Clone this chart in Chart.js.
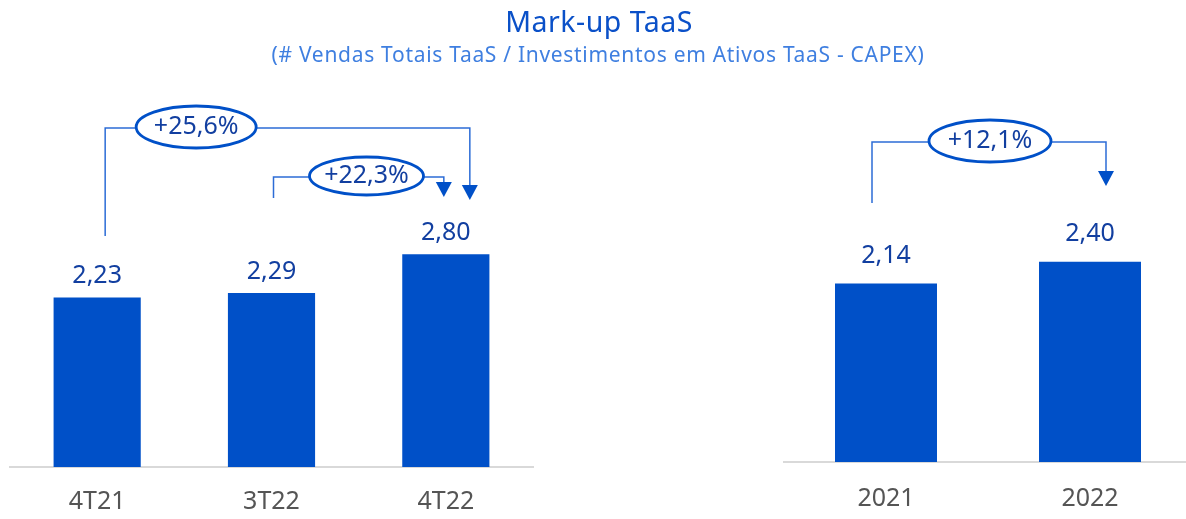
<!DOCTYPE html>
<html>
<head>
<meta charset="utf-8">
<script src="https://cdn.jsdelivr.net/npm/chart.js@4"></script>
<style>
  html, body { margin: 0; padding: 0; background: #fff; overflow: hidden; }
  body { width: 1186px; height: 519px; position: relative; font-family: "Noto Sans", sans-serif; }
  #title { position: absolute; top: 2px; left: 0; width: 1198px; text-align: center; color: #0a50c8; font-size: 28.5px; letter-spacing: 0.5px; }
  #subtitle { position: absolute; top: 40px; left: 0; width: 1196px; text-align: center; color: #3f7fe0; font-size: 21px; letter-spacing: 0.7px; }
  #leftBox { position: absolute; left: 0; top: 0; width: 545px; height: 541px; }
  #rightBox { position: absolute; left: 770px; top: 0; width: 430px; height: 543px; }
</style>
</head>
<body>
<div id="leftBox"><canvas id="leftChart"></canvas></div>
<div id="rightBox"><canvas id="rightChart"></canvas></div>
<div id="title">Mark-up TaaS</div>
<div id="subtitle">(# Vendas Totais TaaS / Investimentos em Ativos TaaS - CAPEX)</div>
<script>
// Quarterly values
const quarterLabels = ["4T21", "3T22", "4T22"];
const quarterValues = [2.23, 2.29, 2.80];
// Yearly values
const yearLabels = ["2021", "2022"];
const yearValues = [2.14, 2.40];
// Growth labels shown in the bubbles
const quarterGrowth = ["+25,6%", "+22,3%"];
const yearGrowth = ["+12,1%"];

const barColor = "#0050c8";
const labelColor = "#123fa0";
const lineColor = "#2c6cd6";
const fontName = "'Noto Sans', sans-serif";

// Draws value labels on top of each bar
const valueLabels = {
  id: "valueLabels",
  afterDatasetsDraw(chart, args, opts) {
    const ctx = chart.ctx;
    const meta = chart.getDatasetMeta(0);
    ctx.save();
    ctx.fillStyle = labelColor;
    ctx.font = "25px " + fontName;
    ctx.textAlign = "center";
    ctx.textBaseline = "bottom";
    meta.data.forEach((bar, i) => {
      const v = chart.data.datasets[0].data[i];
      ctx.fillText(v.toFixed(2).replace(".", ","), bar.x, bar.y - opts.offset);
    });
    ctx.restore();
  }
};

// Draws the bracket + bubble + arrow between two bars
const growthBrackets = {
  id: "growthBrackets",
  afterDraw(chart, args, opts) {
    const ctx = chart.ctx;
    const xs = chart.scales.x;
    ctx.save();
    (opts.items || []).forEach(b => {
      const x1 = xs.getPixelForValue(b.from) + b.fromDx;
      const x2 = xs.getPixelForValue(b.to) + b.toDx;
      const cx = x1 + b.cxDx;
      // connector lines
      ctx.strokeStyle = lineColor;
      ctx.lineWidth = 1.5;
      ctx.beginPath();
      ctx.moveTo(x1, b.startY);
      ctx.lineTo(x1, b.lineY);
      ctx.lineTo(cx - b.rx, b.lineY);
      ctx.moveTo(cx + b.rx, b.lineY);
      ctx.lineTo(x2, b.lineY);
      ctx.lineTo(x2, b.tipY - 14);
      ctx.stroke();
      // arrow head
      ctx.fillStyle = barColor;
      ctx.beginPath();
      ctx.moveTo(x2 - 8, b.tipY - 15);
      ctx.lineTo(x2 + 8, b.tipY - 15);
      ctx.lineTo(x2, b.tipY);
      ctx.closePath();
      ctx.fill();
      // bubble
      ctx.fillStyle = "#fff";
      ctx.strokeStyle = barColor;
      ctx.lineWidth = 2.8;
      ctx.beginPath();
      ctx.ellipse(cx, b.lineY - 1, b.rx, b.ry, 0, 0, Math.PI * 2);
      ctx.fill();
      ctx.stroke();
      ctx.fillStyle = labelColor;
      ctx.font = "25px " + fontName;
      ctx.textAlign = "center";
      ctx.textBaseline = "middle";
      ctx.fillText(b.text, cx, b.lineY - 1);
    });
    ctx.restore();
  }
};

function makeChart(id, labels, values, yMax, pad, tickPad, labelOffset, brackets) {
  return new Chart(document.getElementById(id), {
    type: "bar",
    data: {
      labels: labels,
      datasets: [{
        data: values,
        backgroundColor: barColor,
        categoryPercentage: 1,
        barPercentage: 0.5
      }]
    },
    options: {
      responsive: true,
      maintainAspectRatio: false,
      animation: false,
      layout: { padding: pad },
      plugins: {
        legend: { display: false },
        tooltip: { enabled: false },
        valueLabels: { offset: labelOffset },
        growthBrackets: { items: brackets }
      },
      scales: {
        x: {
          grid: { display: false, drawTicks: false },
          border: { display: true, color: "#d9d9d9", width: 2 },
          ticks: { color: "#555555", padding: tickPad, font: { family: fontName, size: 25 } }
        },
        y: { display: false, min: 0, max: yMax }
      }
    },
    plugins: [valueLabels, growthBrackets]
  });
}

makeChart("leftChart", quarterLabels, quarterValues, 4.83,
  { left: 10, right: 12, top: 100, bottom: 4 }, 20, 9, [
    { from: 0, to: 2, fromDx: 8, toDx: 24, cxDx: 91, rx: 60, ry: 21, startY: 236, lineY: 128, tipY: 200, text: quarterGrowth[0] },
    { from: 1, to: 2, fromDx: 2, toDx: -2, cxDx: 93, rx: 57, ry: 19, startY: 198, lineY: 177, tipY: 197, text: quarterGrowth[1] }
  ]);

makeChart("rightChart", yearLabels, yearValues, 4.34,
  { left: 14, right: 8, top: 100, bottom: 7 }, 22, 15, [
    { from: 0, to: 1, fromDx: -14, toDx: 16, cxDx: 118, rx: 61, ry: 21, startY: 203, lineY: 142, tipY: 186, text: yearGrowth[0] }
  ]);
</script>
</body>
</html>
